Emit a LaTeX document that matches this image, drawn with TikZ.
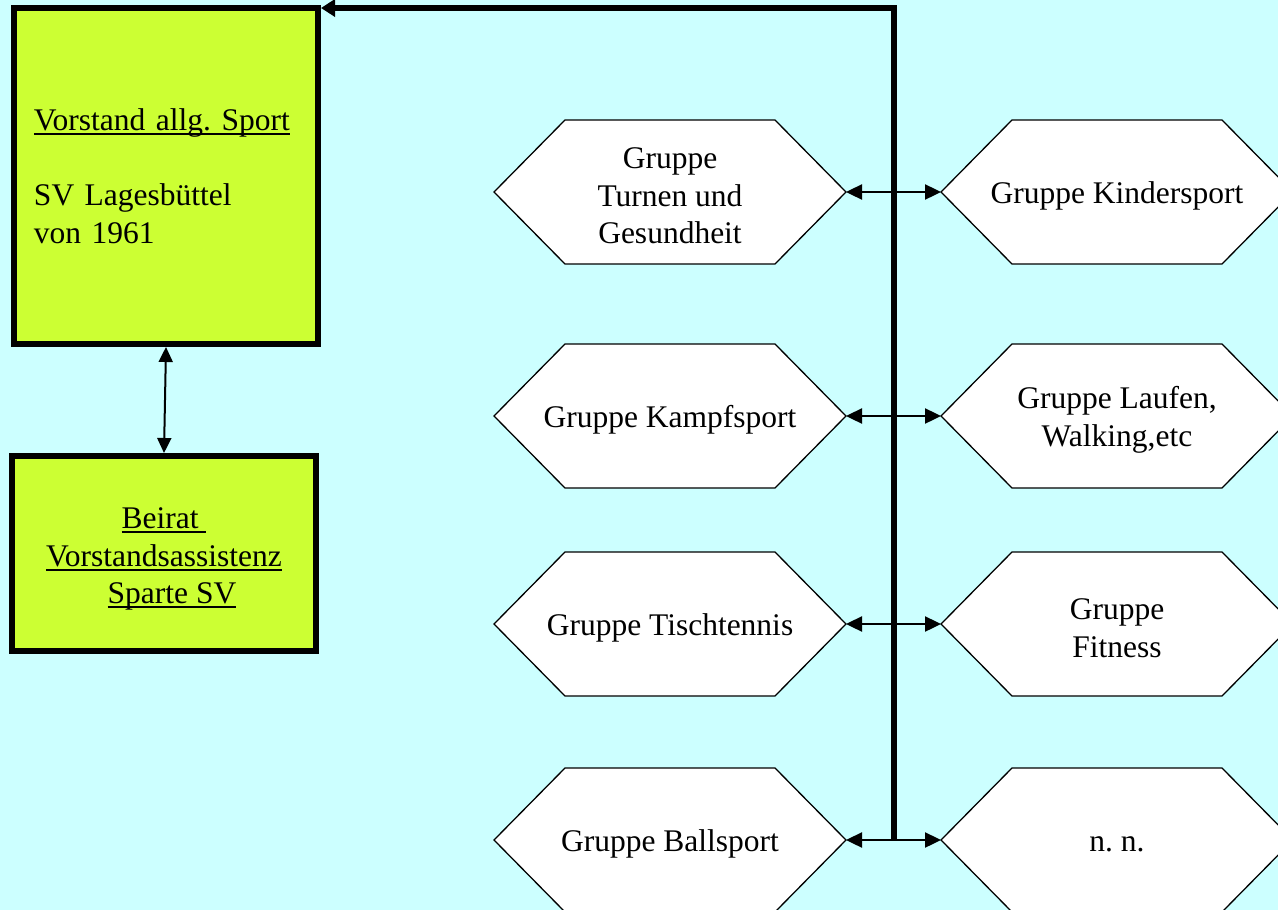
\documentclass[tikz,border=0pt]{standalone}
\usepackage{fontspec}
\setmainfont{Liberation Serif}
\usetikzlibrary{arrows.meta,calc}
\definecolor{bgcyan}{HTML}{CCFFFF}
\definecolor{boxgreen}{HTML}{CCFF33}
\newcommand\ulin[1]{\setbox0\hbox{#1}\rlap{\rule[-4.5pt]{\wd0}{1.8pt}}\box0}
% hexagon: name, centre, text
\newcommand\hexnode[3]{%
  \coordinate (#1-c) at (#2);
  \draw[hexline] ([xshift=-176pt]#1-c) -- ([xshift=-105pt,yshift=72pt]#1-c)
    -- ([xshift=105pt,yshift=72pt]#1-c) -- ([xshift=176pt]#1-c)
    -- ([xshift=105pt,yshift=-72pt]#1-c) -- ([xshift=-105pt,yshift=-72pt]#1-c) -- cycle;
  \coordinate (#1-w) at ([xshift=-176pt]#1-c);
  \coordinate (#1-e) at ([xshift=176pt]#1-c);
  \node[hextext] (#1) at ([yshift=-4pt]#1-c) {#3};}
\begin{document}
\frenchspacing
\begin{tikzpicture}[x=1pt,y=-1pt,
  txt/.style={font=\fontsize{31.5pt}{37.5pt}\selectfont},
  mainbox/.style={draw=black, line width=6pt, fill=boxgreen, txt, inner sep=0pt},
  hexline/.style={draw=black, line width=1.3pt, fill=white, line join=miter},
  hextext/.style={txt, align=center, inner sep=0pt},
  link/.style={line width=2.4pt,
    {Triangle[length=16pt,width=15pt]}-{Triangle[length=16pt,width=15pt]}},
  bus/.style={line width=6pt, line join=miter, -{Triangle[length=14pt,width=17pt]}}]
\useasboundingbox (0,0) rectangle (1278,910);
\clip (0,0) rectangle (1278,910);
\fill[bgcyan] (0,0) rectangle (1278,910);

\node[mainbox, minimum width=304pt, minimum height=336pt, text width=264pt, align=left]
  (vor) at (166,176) {\ulin{Vorstand allg. Sport}\\[38pt]SV Lagesbüttel\\von 1961};
\node[mainbox, minimum width=304pt, minimum height=195pt, align=center]
  (beirat) at (164,553.5) {};
\node[txt, align=center, inner sep=0pt] (beirattext) at (164,559)
  {\ulin{Beirat\ }\\\ulin{Vorstandsassistenz}\\\hspace*{16pt}\ulin{Sparte SV}};

\hexnode{L1}{670,192}{Gruppe\\Turnen und\\Gesundheit}
\hexnode{R1}{1117,192}{Gruppe Kindersport}
\hexnode{L2}{670,416}{Gruppe Kampfsport}
\hexnode{R2}{1117,416}{Gruppe Laufen,\\Walking,etc}
\hexnode{L3}{670,624}{Gruppe Tischtennis}
\hexnode{R3}{1117,624}{Gruppe\\Fitness}
\hexnode{L4}{670,840}{Gruppe Ballsport}
\hexnode{R4}{1117,840}{n. n.}

\draw[link] (L1-e) -- (R1-w);
\draw[link] (L2-e) -- (R2-w);
\draw[link] (L3-e) -- (R3-w);
\draw[link] (L4-e) -- (R4-w);

\coordinate (busbot) at ($(L4-e)!0.5!(R4-w)$);
\draw[bus] (busbot) |- ([yshift=-3pt]vor.north east);

\draw[line width=2pt, {Triangle[length=15pt,width=14pt]}-{Triangle[length=15pt,width=14pt]}]
  (vor.south) -- (beirat.north);
\end{tikzpicture}
\end{document}
